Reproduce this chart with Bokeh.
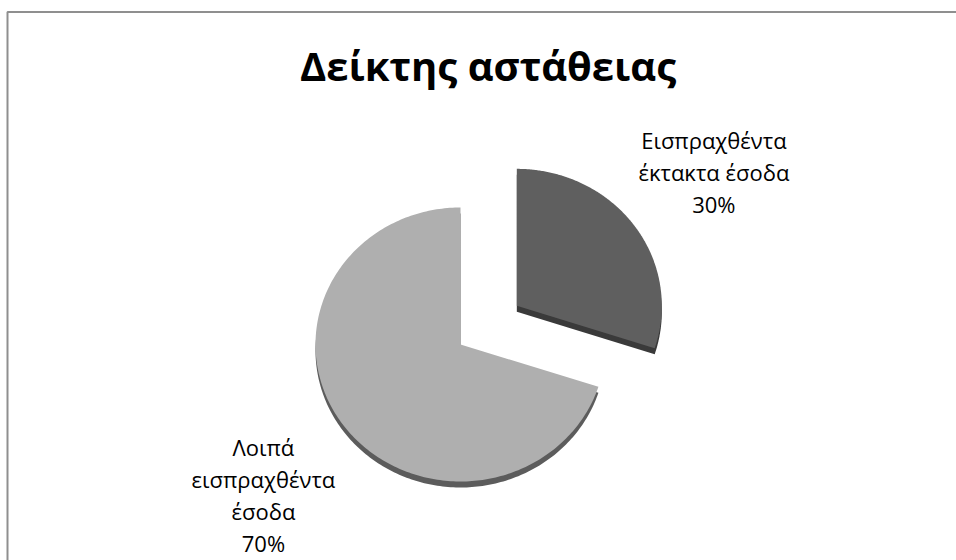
import numpy as np
from bokeh.plotting import figure
from bokeh.models import Range1d, BoxAnnotation, ColumnDataSource
from bokeh.core.properties import value
from bokeh.embed import file_html
from bokeh.resources import INLINE

# ---- data ----
title_text = "Δείκτης αστάθειας"
categories = ["Εισπραχθέντα έκτακτα έσοδα", "Λοιπά εισπραχθέντα έσοδα"]
label_lines = [["Εισπραχθέντα", "έκτακτα έσοδα"], ["Λοιπά", "εισπραχθέντα", "έσοδα"]]
values = [30, 70]

# ---- styles / layout ----
explode = [0.48, 0.0]
top_colors = ["#5f5f5f", "#afafaf"]
side_colors = ["#3a3a3a", "#5c5c5c"]
W, H = 956, 560
CX, CY = 460, 216          # pie centre (plot units = pixels)
RX, RY = 145, 137          # ellipse radii
DEPTH = 6                  # 3-D thickness
LABEL_RX = 1.68            # label horizontal distance factor
LABEL_EDGE = 1.07          # label box near-edge vertical factor
LINE_H = 32
LABEL_FONT = "Open Sans"
LABEL_SIZE = "22px"
TITLE_SIZE = "40px"
TITLE_X, TITLE_Y = 487.5, 495

p = figure(width=W, height=H, output_backend="svg", toolbar_location=None,
           x_range=Range1d(0, W), y_range=Range1d(0, H), min_border=0)
p.axis.visible = False
p.grid.visible = False
p.outline_line_color = None
p.background_fill_color = "white"
p.border_fill_color = "white"

total = float(sum(values))
start = np.pi / 2
side_xs, side_ys, top_xs, top_ys = [], [], [], []
lab_x, lab_y, lab_t = [], [], []
for i, v in enumerate(values):
    sweep = 2 * np.pi * v / total
    a0, a1 = start, start - sweep
    mid = (a0 + a1) / 2
    cx = CX + explode[i] * RX * np.cos(mid)
    cy = CY + explode[i] * RY * np.sin(mid)
    t = np.linspace(a0, a1, 240)
    xs = np.concatenate([[cx], cx + RX * np.cos(t)])
    ys = np.concatenate([[cy], cy + RY * np.sin(t)])
    top_xs.append(list(xs)); top_ys.append(list(ys))
    side_xs.append(list(xs)); side_ys.append(list(ys - DEPTH))

    lines = label_lines[i] + ["%d%%" % round(100 * v / total)]
    n = len(lines)
    lx = cx + LABEL_RX * RX * np.cos(mid)
    edge = cy + LABEL_EDGE * RY * np.sin(mid)
    if np.sin(mid) >= 0:
        top = edge + n * LINE_H
    else:
        top = edge
    for k, s in enumerate(lines):
        lab_x.append(lx)
        lab_y.append(top - (k + 0.5) * LINE_H)
        lab_t.append(s)
    start = a1

p.patches(xs="xs", ys="ys", color="color", line_color=None,
          source=ColumnDataSource(dict(xs=side_xs, ys=side_ys, color=side_colors)))
p.patches(xs="xs", ys="ys", color="color", line_color=None,
          source=ColumnDataSource(dict(xs=top_xs, ys=top_ys, color=top_colors)))

p.text(x="x", y="y", text="text",
       source=ColumnDataSource(dict(x=lab_x, y=lab_y, text=lab_t)),
       text_font=value(LABEL_FONT), text_font_size=LABEL_SIZE,
       text_align="center", text_baseline="middle", text_color="#000000")

p.text(x=[TITLE_X], y=[TITLE_Y], text=[title_text],
       text_font=value(LABEL_FONT), text_font_size=TITLE_SIZE, text_font_style="bold",
       text_align="center", text_baseline="middle", text_color="#000000")

# chart frame: only its top and left edges fall inside the picture
p.add_layout(BoxAnnotation(left=7, right=W + 40, top=H - 11.5, bottom=-40,
                           fill_alpha=0, line_color="#8f8f8f", line_alpha=1.0,
                           line_width=2))

open("out.html", "w").write(file_html(p, INLINE))
